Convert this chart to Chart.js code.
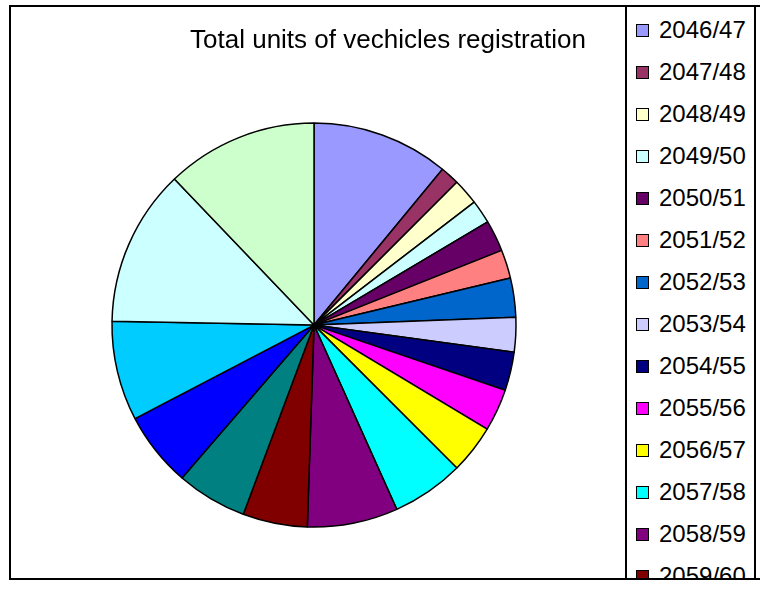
<!DOCTYPE html>
<html>
<head>
<meta charset="utf-8">
<script src="https://cdn.jsdelivr.net/npm/chart.js"></script>
<style>
  html, body { margin: 0; padding: 0; background: #fff; }
  body { width: 760px; height: 589px; position: relative; overflow: hidden; font-family: "Liberation Sans", Arial, sans-serif; }
  #pie { position: absolute; left: 0; top: 0; }
  .frame { position: absolute; left: 9px; top: 5px; width: 800px; height: 571px; border: 2px solid #000; }
  .shadow { position: absolute; left: 11px; top: 578px; width: 800px; height: 2px; background: #c8c8c8; }
  .legend { position: absolute; left: 625px; top: 5px; width: 127px; height: 571px; border: 2px solid #000; background: #fff; overflow: hidden; }
  .legend-item { height: 42px; display: flex; align-items: center; white-space: nowrap; }
  .legend-box { width: 13px; height: 13px; border: 1px solid #000; box-sizing: border-box; margin-left: 9px; margin-right: 10px; }
  .legend-text { font-size: 24px; color: #000; }
</style>
</head>
<body>
<canvas id="pie" width="760" height="589"></canvas>
<div class="shadow"></div>
<div class="frame"></div>
<div class="legend" id="legend"></div>
<script>
// fiscal years
let years = ["2046/47", "2047/48", "2048/49", "2049/50", "2050/51", "2051/52", "2052/53",
    "2053/54", "2054/55", "2055/56", "2056/57", "2057/58", "2058/59", "2059/60",
    "2060/61", "2061/62", "2062/63", "2063/64", "2064/65"]
// units registered
let units = [39500, 5500, 7500, 6800, 9000, 8200, 11300, 9900, 11100, 12200,
    14000, 20800, 26100, 18600, 20300, 21600, 28700, 45200, 43700]
let colors = ["#9999FF", "#993366", "#FFFFCC", "#CCFFFF", "#660066", "#FF8080", "#0066CC",
    "#CCCCFF", "#000080", "#FF00FF", "#FFFF00", "#00FFFF", "#800080", "#800000",
    "#008080", "#0000FF", "#00CCFF", "#CCFFFF", "#CCFFCC"]
let chartTitle = "Total units of vechicles registration"

let ctx = document.getElementById("pie")
let pieChart = new Chart(ctx, {
    type: 'pie',
    data: {
        labels: years,
        datasets: [{
            data: units,
            backgroundColor: colors,
            borderColor: "#000",
            borderWidth: 1.5
        }]
    },
    options: {
        responsive: false,
        animation: false,
        devicePixelRatio: 1,
        radius: 202,
        layout: {
            padding: { left: 42, right: 174, top: 25, bottom: 0 }
        },
        plugins: {
            legend: { display: false },
            tooltip: { enabled: false },
            title: {
                display: true,
                text: chartTitle,
                align: 'end',
                color: "#000",
                font: { family: "'Liberation Sans', Arial, sans-serif", size: 26, weight: 'normal', lineHeight: 1.2 },
                padding: { top: 0, bottom: 5 }
            }
        }
    }
})

// legend built from the same arrays, clipped by its box like the original
let legend = document.getElementById("legend")
let pad = document.createElement("div")
pad.style.height = "2px"
legend.appendChild(pad)
for (let i = 0; i < years.length; i++) {
    let item = document.createElement("div")
    item.className = "legend-item"
    item.innerHTML = '<span class="legend-box" style="background:' + colors[i] + '"></span>' +
        '<span class="legend-text">' + years[i] + '</span>'
    legend.appendChild(item)
}
</script>
</body>
</html>
